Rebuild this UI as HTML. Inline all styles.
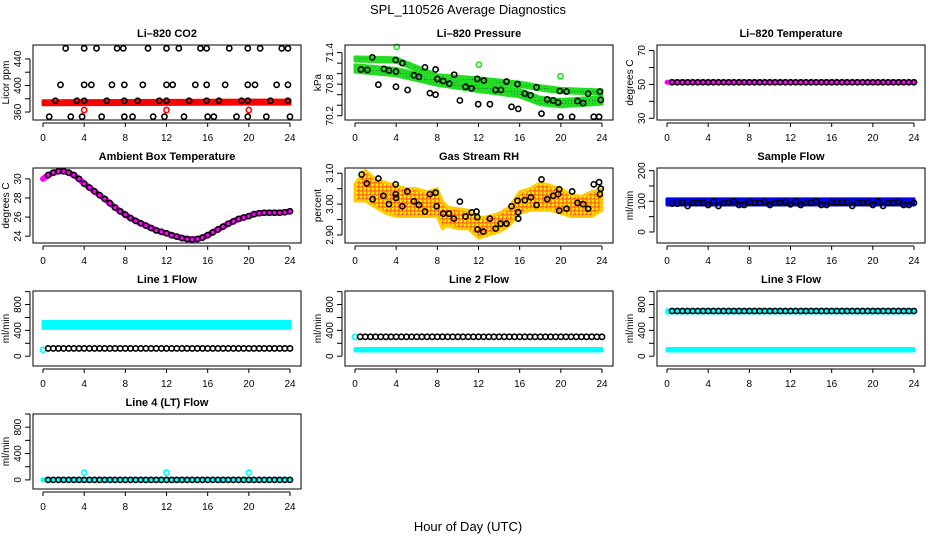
<!DOCTYPE html>
<html><head><meta charset="utf-8"><style>
body{margin:0;background:#fff;}
svg{display:block;font-family:"Liberation Sans",sans-serif;}
</style></head><body>
<svg id="c" width="936" height="540" xmlns="http://www.w3.org/2000/svg">
<defs>
<pattern id="rhpat" width="4" height="4" patternUnits="userSpaceOnUse"><rect width="4" height="4" fill="#ff9a00"/><rect x="0" y="0" width="2" height="2" fill="#ffee00"/><rect x="2" y="2" width="1" height="1" fill="#e03000"/></pattern>
<pattern id="grnpat" width="3" height="3" patternUnits="userSpaceOnUse"><rect width="3" height="3" fill="#22dd22"/><rect x="1" y="1" width="1" height="1" fill="#064"/></pattern>
</defs>
<rect width="936" height="540" fill="#fff"/>
<text x="468" y="14" text-anchor="middle" font-size="13">SPL_110526  Average Diagnostics</text>
<text x="468" y="531" text-anchor="middle" font-size="13">Hour of Day (UTC)</text>
</svg>
<script>
// ---- data ----
const co2Hours=[2.2,4.0,5.2,7.2,7.8,10.2,12.0,13.2,15.3,15.9,18.1,19.9,21.1,23.2,23.8,
1.7,4.0,4.7,6.7,7.9,9.7,12.0,12.6,14.8,15.9,17.7,19.9,20.6,22.7,23.8,
1.2,3.3,4.0,6.2,7.9,9.2,11.3,12.0,14.2,15.9,17.1,19.3,19.9,22.1,23.8,
0.6,2.7,3.8,5.7,7.9,8.7,10.7,11.8,13.7,16.0,16.6,18.8,19.9,21.7,24.0];
const co2Vals=[456,456,456,456,456,456,456,456,456,456,456,456,456,456,456,
401,401,401,401,401,401,401,401,401,401,401,401,401,401,401,
377,377,377,377,377,377,377,377,377,377,377,377,377,377,377,
353,353,353,353,353,353,353,353,353,353,353,353,353,353,353];
const co2BandHours=[0,24];
const co2BandVals=[374,375];
const co2RedHours=[4,12,20];
const co2RedVals=[363,363,363];

const presHours=[1.68,0.58,1.20,2.27,2.81,3.30,3.95,3.98,3.98,4.60,5.11,5.73,6.21,6.80,7.28,7.83,7.83,8.0,8.57,9.16,9.64,10.19,10.74,11.33,11.88,11.97,12.52,13.11,13.66,14.18,14.72,15.21,15.79,15.86,16.5,17.05,17.64,18.12,18.67,19.26,19.74,19.9,19.97,20.55,21.1,21.62,22.17,22.65,23.2,23.72,23.79,23.88];
const presVals=[71.31,71.08,71.07,70.79,71.09,71.06,71.26,71.04,70.75,71.20,70.69,70.97,70.94,71.12,70.63,71.08,70.60,70.90,70.86,70.81,70.98,70.49,70.75,70.72,70.90,70.42,70.87,70.42,70.69,70.69,70.85,70.37,70.80,70.33,70.62,70.59,70.74,70.24,70.51,70.49,70.45,70.67,70.18,70.66,70.18,70.48,70.44,70.62,70.18,70.18,70.66,70.50];
const presBandHours=[0,4,8,12,16,18,20,24];
const presUpper=[71.32,71.30,70.98,70.92,70.84,70.77,70.72,70.69];
const presLower=[71.11,71.04,70.86,70.74,70.64,70.49,70.45,70.50];
const presGreenHours=[4.05,12.04,19.97];
const presGreenVals=[71.51,71.17,70.95];

const tempVal=[51.3];

const ambHours=[0,0.5,1,1.5,2,2.5,3,3.5,4,4.5,5,5.5,6,6.5,7,7.5,8,8.5,9,9.5,10,10.5,11,11.5,12,12.5,13,13.5,14,14.5,15,15.5,16,16.5,17,17.5,18,18.5,19,19.5,20,20.5,21,21.5,22,22.5,23,23.5,24];
const ambVals=[30.0,30.4,30.65,30.8,30.8,30.65,30.4,30.0,29.5,29.1,28.7,28.3,27.9,27.45,27.0,26.6,26.25,25.9,25.6,25.35,25.1,24.85,24.6,24.45,24.3,24.1,23.95,23.8,23.7,23.65,23.7,23.85,24.1,24.4,24.7,25.0,25.3,25.55,25.8,25.95,26.1,26.3,26.4,26.45,26.45,26.45,26.45,26.5,26.6];

const rhBandHours=[0,1,2,3,4,5,6,7,8,8.5,9,10,11,12,13,14,15,16,17,18,19,20,21,22,23,24];
const rhUpper=[3.065,3.11,3.08,3.07,3.06,3.05,3.05,3.04,3.05,3.01,2.99,2.985,2.98,2.955,2.96,2.97,2.99,3.04,3.05,3.07,3.06,3.05,3.03,3.025,3.04,3.05];
const rhLower=[3.01,3.01,2.99,2.97,2.96,2.96,2.96,2.96,2.96,2.92,2.93,2.92,2.92,2.89,2.90,2.91,2.93,2.97,2.98,2.98,2.98,2.97,2.96,2.96,2.96,2.98];
const rhHours=[0.65,1.15,1.70,2.27,2.75,3.30,3.95,3.95,3.98,4.6,5.08,5.73,6.21,6.8,7.28,7.83,7.93,8.57,9.13,9.61,10.19,10.74,11.33,11.81,11.88,11.91,12.46,13.11,13.66,14.14,14.72,15.21,15.79,15.86,15.86,16.5,17.09,17.64,18.12,18.67,19.26,19.74,19.84,19.84,20.55,21.1,21.62,22.17,22.65,23.2,23.72,23.88,23.79];
const rhVals=[3.096,3.067,3.016,3.083,3.027,3.0,3.064,3.032,3.02,2.993,3.041,3.009,2.997,2.976,3.032,3.037,2.993,2.969,2.969,2.953,3.008,2.96,2.973,2.976,2.958,2.918,2.911,2.953,2.921,2.937,2.937,2.993,3.011,2.974,2.953,3.013,3.022,2.997,3.08,3.016,3.027,3.032,3.048,2.979,2.985,3.041,3.004,3.0,2.985,3.064,3.071,3.05,3.032];

const halfHours=[0.5,1,1.5,2,2.5,3,3.5,4,4.5,5,5.5,6,6.5,7,7.5,8,8.5,9,9.5,10,10.5,11,11.5,12,12.5,13,13.5,14,14.5,15,15.5,16,16.5,17,17.5,18,18.5,19,19.5,20,20.5,21,21.5,22,22.5,23,23.5,24];
const sampleVals=[92,92,97,85,95,95,95,88,100,85,95,97,100,88,88,98,95,95,98,88,95,97,98,90,100,88,97,95,100,88,88,98,97,97,97,85,95,95,97,88,100,85,95,95,98,88,88,95];
const sampleBand=[98];

const line1Black=[120];const line1Band=[430,540];const line1Low=[100];
const line2Black=[300];const line2Band=[80,120];const line2Start=[300];
const line3Black=[700];const line3Band=[670,720];const line3Low=[80,120];
const line4Black=[0];const line4Spike=[4,12,20];const line4SpikeVal=[110];

// ---- layout ----
const svg=document.getElementById('c');
const NS='http://www.w3.org/2000/svg';
const colLeft=[33,345,657], W=268, rowTop=[45,168,291,414], H=75;
function mk(tag,attrs,parent){const e=document.createElementNS(NS,tag);for(const k in attrs)e.setAttribute(k,attrs[k]);(parent||svg).appendChild(e);return e;}

function panel(col,row,title,ylab,dom,ticks,labels,name){
  const L=colLeft[col],T=rowTop[row],B=T+H;
  const g=mk('g',{});
  
  
  const xs=h=>L+10+h*(247/24);
  const ys=v=>B-(v-dom[0])/(dom[1]-dom[0])*H;
  const t=mk('text',{x:L+W/2,y:T-8,'text-anchor':'middle','font-size':11,'font-weight':'bold'},g);t.textContent=title;
  
  
  const plot=mk('g',{},g);
  
  
  const xa=mk('g',{},g);
  
  
  mk('line',{x1:xs(0),x2:xs(24),y1:B+3,y2:B+3,stroke:'#000'},xa);
  for(let h=0;h<=24;h+=4){mk('line',{x1:xs(h),x2:xs(h),y1:B+3,y2:B+7,stroke:'#000'},xa);
    const tx=mk('text',{x:xs(h),y:B+21,'text-anchor':'middle','font-size':10},xa);tx.textContent=h;}
  const ya=mk('g',{},g);
  
  
  mk('line',{x1:L-3,x2:L-3,y1:ys(ticks[0]),y2:ys(ticks[ticks.length-1]),stroke:'#000'},ya);
  ticks.forEach(v=>mk('line',{x1:L-8,x2:L-3,y1:ys(v),y2:ys(v),stroke:'#000'},ya));
  labels.forEach(v=>{const tx=mk('text',{transform:`translate(${L-12},${ys(v)}) rotate(-90)`,'text-anchor':'middle','font-size':10},ya);tx.textContent=v;});
  const yt=mk('text',{transform:`translate(${L-24},${T+H/2}) rotate(-90)`,'text-anchor':'middle','font-size':10},ya);yt.textContent=ylab;
  
  
  mk('rect',{x:L,y:T,width:W,height:H,fill:'none',stroke:'#000'},g);
  return {xs,ys,plot};
}
function circ(p,h,v,color,name){const c=mk('circle',{cx:p.xs(h),cy:p.ys(v),r:2.6,fill:'none',stroke:color,'stroke-width':1.6},p.plot);
  
  }
function band(p,hrs,up,lo,color,name,strokeCol){let d='';hrs.forEach((h,i)=>d+=(i?'L':'M')+p.xs(h)+','+p.ys(up[i]));
  for(let i=hrs.length-1;i>=0;i--)d+='L'+p.xs(hrs[i])+','+p.ys(lo[i]);
  const e=mk('path',{d:d+'Z',fill:color,stroke:strokeCol||color,'stroke-width':3,'stroke-linejoin':'round'},p.plot);
  
  }
function thick(p,hrs,vals,color,w,name){const e=mk('polyline',{points:hrs.map((h,i)=>p.xs(h)+','+p.ys(vals[i])).join(' '),fill:'none',stroke:color,'stroke-width':w,'stroke-linejoin':'round','stroke-linecap':'round'},p.plot);
  
  }

let p=panel(0,0,'Li\u2013820 CO2','Licor ppm',[348,461],[360,380,400,420,440],[360,400,440],'co2');
band(p,co2BandHours,co2BandVals.map(v=>v+3),co2BandVals.map(v=>v-3),'#ff0000','co2-band');
co2RedHours.forEach((h,i)=>circ(p,h,co2RedVals[i],'#ff0000','co2-red-point'));
co2Hours.forEach((h,i)=>circ(p,h,co2Vals[i],'#000','co2-point'));

p=panel(1,0,'Li\u2013820 Pressure','kPa',[70.119,71.545],[70.2,70.4,70.6,70.8,71.0,71.2,71.4],[70.2,70.8,71.4],'pressure');
band(p,presBandHours,presUpper,presUpper.map(v=>v-0.08),'url(#grnpat)','pressure-upper-band','#22dd22');
band(p,presBandHours,presLower.map(v=>v+0.06),presLower.map(v=>v-0.08),'url(#grnpat)','pressure-lower-band','#22dd22');
presGreenHours.forEach((h,i)=>circ(p,h,presGreenVals[i],'#22dd22','pressure-green-point'));
presHours.forEach((h,i)=>circ(p,h,presVals[i],'#000','pressure-point'));

p=panel(2,0,'Li\u2013820 Temperature','degrees C',[29.0,73.3],[30,40,50,60,70],[30,50,70],'li820-temp');
thick(p,[0,24],[tempVal[0],tempVal[0]],'#ff00ff',5,'temp-band');
halfHours.forEach(h=>circ(p,h,tempVal[0],'#000','temp-point'));

p=panel(0,1,'Ambient Box Temperature','degrees C',[23.28,31.14],[24,26,28,30],[24,26,28,30],'ambient');
thick(p,ambHours,ambVals,'#ff00ff',6,'ambient-line');
ambHours.forEach((h,i)=>{if(i>0)circ(p,h,ambVals[i],'#000','ambient-point');});

p=panel(1,1,'Gas Stream RH','percent',[2.874,3.117],[2.90,2.95,3.00,3.05,3.10],['2.90','3.00','3.10'],'rh');
band(p,rhBandHours,rhUpper,rhLower,'url(#rhpat)','rh-band','#ffcc00');
rhHours.forEach((h,i)=>circ(p,h,rhVals[i],'#000','rh-point'));

p=panel(2,1,'Sample Flow','ml/min',[-36,208.7],[0,50,100,150,200],[0,100,200],'sample-flow');
band(p,[0,24],[sampleBand[0]+10,sampleBand[0]+10],[sampleBand[0]-10,sampleBand[0]-10],'#0000ee','sample-band');
halfHours.forEach((h,i)=>circ(p,h,sampleVals[i],'#000','sample-point'));

const fTicks=[0,200,400,600,800,1000],fLab=[0,400,800];
p=panel(0,2,'Line 1 Flow','ml/min',[-152,1010],fTicks,fLab,'line1');
band(p,[0,24],[line1Band[1],line1Band[1]],[line1Band[0],line1Band[0]],'#00ffff','line1-band');
circ(p,0,line1Low[0],'#00ffff','line1-cyan-point');
halfHours.forEach(h=>circ(p,h,line1Black[0],'#000','line1-point'));

p=panel(1,2,'Line 2 Flow','ml/min',[-152,1010],fTicks,fLab,'line2');
band(p,[0,24],[line2Band[1],line2Band[1]],[line2Band[0],line2Band[0]],'#00ffff','line2-band');
circ(p,0,line2Start[0],'#00ffff','line2-cyan-point');
halfHours.forEach(h=>circ(p,h,line2Black[0],'#000','line2-point'));

p=panel(2,2,'Line 3 Flow','ml/min',[-152,1010],fTicks,fLab,'line3');
band(p,[0,24],[line3Band[1],line3Band[1]],[line3Band[0],line3Band[0]],'#00ffff','line3-band');
band(p,[0,24],[line3Low[1],line3Low[1]],[line3Low[0],line3Low[0]],'#00ffff','line3-low-band');
halfHours.forEach(h=>circ(p,h,line3Black[0],'#000','line3-point'));

p=panel(0,3,'Line 4 (LT) Flow','ml/min',[-138,1000],fTicks,fLab,'line4');
thick(p,[0,24],[line4Black[0],line4Black[0]],'#00ffff',5,'line4-band');
line4Spike.forEach(h=>circ(p,h,line4SpikeVal[0],'#00ffff','line4-cyan-point'));
halfHours.forEach(h=>circ(p,h,line4Black[0],'#000','line4-point'));
</script>
</body></html>
